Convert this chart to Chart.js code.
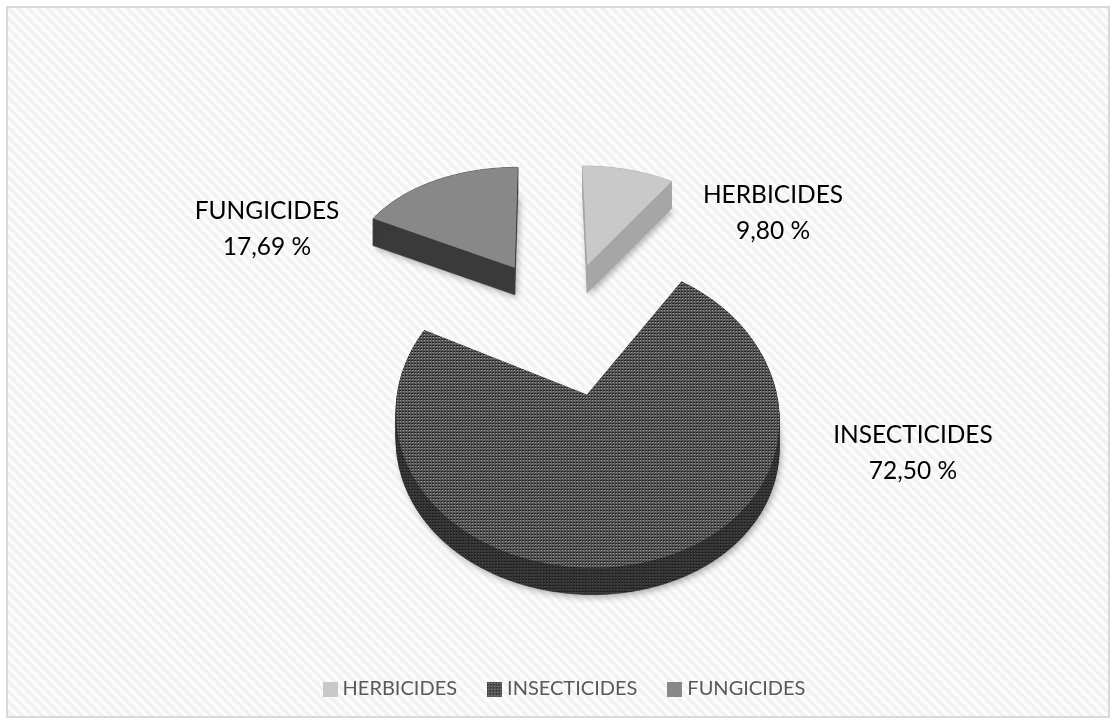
<!DOCTYPE html>
<html>
<head>
<meta charset="utf-8">
<script src="https://cdn.jsdelivr.net/npm/chart.js@4"></script>
<style>
  html, body { margin: 0; padding: 0; background: #fff; width: 1115px; height: 723px; overflow: hidden; }
  #frame {
    position: absolute; left: 6px; top: 6px; width: 1100px; height: 708px;
    border: 2px solid #d9d9d9;
    background: repeating-linear-gradient(45deg, #ffffff 0, #efefef 3.5px, #ffffff 7px);
  }
  #wrap { position: absolute; left: 0; top: 0; width: 1115px; height: 723px; }
</style>
</head>
<body>
<div id="frame"></div>
<div id="wrap"><canvas id="chart" width="1115" height="723"></canvas></div>
<script>
// Shares of pesticide use by class
const categories = ['HERBICIDES', 'INSECTICIDES', 'FUNGICIDES'];
const shares = [9.80, 72.50, 17.69];

// Small dither tile used as the insecticide fill
function ditherTile(base, dark, light) {
  const c = document.createElement('canvas');
  c.width = 3; c.height = 3;
  const g = c.getContext('2d');
  g.fillStyle = base; g.fillRect(0, 0, 3, 3);
  g.fillStyle = dark; g.fillRect(0, 0, 1, 1);
  g.fillRect(1, 0, 1, 1);
  g.fillStyle = light; g.fillRect(1, 1, 1, 1);
  return g.createPattern(c, 'repeat');
}

// Legend swatch wider than its reserved slot, so the text sits close to it
function swatch(fill) {
  const c = document.createElement('canvas');
  c.width = 15; c.height = 15;
  const g = c.getContext('2d');
  g.fillStyle = fill; g.fillRect(0, 0, 15, 15);
  return c;
}

const topFills = ['#c9c9c9', ditherTile('#585858', '#242424', '#9a9a9a'), '#888888'];
const wallFills = ['#a6a6a6', ditherTile('#343434', '#1c1c1c', '#484848'), '#3a3a3a'];
const explode = [124, 124, 134];

// Tilted-camera projection of the pie plane onto the canvas
const camera = { ox: 563, shear: -2, scale: 178, persp: 0.1284, cy: 325.5, ya: 136, yb: 18.7, depth: 27 };
function project(wx, wy) {
  const s = camera.scale / (1 + camera.persp * wy);
  return {
    x: camera.ox + s * wx + camera.shear * wy,
    y: camera.cy - camera.ya * wy + camera.yb * wy * wy
  };
}

// Arc drawn as a raised wedge seen through the camera above
class Arc3D extends Chart.ArcElement {
  static id = 'arc3d';
  static defaults = { ...Chart.ArcElement.defaults, wallColor: '#000' };
  draw(ctx) {
    const { startAngle, endAngle, outerRadius } = this.getProps(['startAngle', 'endAngle', 'outerRadius']);
    const o = this.options;
    const mid = (startAngle + endAngle) / 2;
    const e = (o.offset || 0) / outerRadius;
    const ax = Math.cos(mid) * e, ay = -Math.sin(mid) * e;
    const pts = [project(ax, ay)];
    const n = Math.max(8, Math.ceil((endAngle - startAngle) * 60));
    for (let i = 0; i <= n; i++) {
      const a = startAngle + (endAngle - startAngle) * i / n;
      pts.push(project(ax + Math.cos(a), ay - Math.sin(a)));
    }
    const d = camera.depth;
    const trace = (dy) => {
      ctx.beginPath();
      pts.forEach((p, i) => i ? ctx.lineTo(p.x, p.y + dy) : ctx.moveTo(p.x, p.y + dy));
      ctx.closePath();
    };
    ctx.save();
    // soft contact shadow under the wedge
    ctx.save();
    ctx.shadowColor = 'rgba(0,0,0,0.3)';
    ctx.shadowBlur = 6;
    ctx.shadowOffsetX = 2;
    ctx.shadowOffsetY = 3;
    ctx.fillStyle = '#888';
    trace(d);
    ctx.fill();
    ctx.restore();
    // side walls
    ctx.fillStyle = o.wallColor;
    ctx.strokeStyle = o.wallColor;
    ctx.lineWidth = 0.6;
    for (let i = 0; i < pts.length; i++) {
      const p = pts[i], q = pts[(i + 1) % pts.length];
      ctx.beginPath();
      ctx.moveTo(p.x, p.y); ctx.lineTo(q.x, q.y);
      ctx.lineTo(q.x, q.y + d); ctx.lineTo(p.x, p.y + d);
      ctx.closePath();
      ctx.fill();
      ctx.stroke();
    }
    // top face
    ctx.fillStyle = o.backgroundColor;
    trace(0);
    ctx.fill();
    ctx.restore();
  }
}

class Pie3D extends Chart.DoughnutController {
  static id = 'pie3d';
  static defaults = { dataElementType: 'arc3d' };
}
Chart.register(Arc3D, Pie3D);

// Category name and share written next to each wedge
const calloutAnchors = [
  { x: 773, y: 195 },
  { x: 913, y: 435 },
  { x: 267, y: 211 }
];
const callouts = {
  id: 'callouts',
  afterDraw(chart) {
    const ctx = chart.ctx;
    ctx.save();
    ctx.font = '24.5px Lato';
    ctx.fillStyle = '#000';
    ctx.textAlign = 'center';
    ctx.textBaseline = 'middle';
    categories.forEach((name, i) => {
      const a = calloutAnchors[i];
      ctx.fillText(name, a.x, a.y);
      ctx.fillText(shares[i].toFixed(2).replace('.', ',') + ' %', a.x, a.y + 36);
    });
    ctx.restore();
  }
};

const ctx = document.getElementById('chart').getContext('2d');
new Chart(ctx, {
  type: 'pie3d',
  data: {
    labels: categories,
    datasets: [{
      data: shares,
      backgroundColor: topFills,
      wallColor: wallFills,
      borderWidth: 0,
      offset: explode,
      hoverOffset: 0
    }]
  },
  options: {
    responsive: false,
    animation: false,
    cutout: 0,
    layout: { padding: { left: 26, right: 8, top: 8, bottom: 14 } },
    plugins: {
      tooltip: { enabled: false },
      legend: {
        position: 'bottom',
        labels: {
          usePointStyle: true,
          pointStyleWidth: 5,
          padding: 35,
          color: '#595959',
          font: { family: 'Lato', size: 20 },
          generateLabels(chart) {
            return categories.map((text, i) => ({
              text,
              index: i,
              fontColor: '#595959',
              hidden: false,
              lineWidth: 0,
              pointStyle: swatch(topFills[i])
            }));
          }
        }
      }
    }
  },
  plugins: [callouts]
});
</script>
</body>
</html>
